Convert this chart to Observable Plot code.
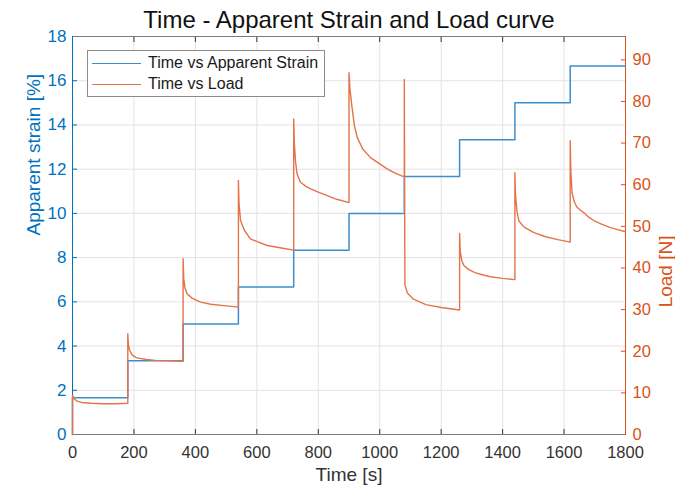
<!DOCTYPE html>
<html>
<head>
<meta charset="utf-8">
<script src="https://cdn.jsdelivr.net/npm/d3@7"></script>
<script src="https://cdn.jsdelivr.net/npm/@observablehq/plot@0.6"></script>
<style>
  html, body { margin: 0; padding: 0; background: #fff; }
  #wrap { position: relative; width: 675px; height: 489px; font-family: "Liberation Sans", Arial, sans-serif; }
  #legend { position: absolute; left: 87px; top: 50px; width: 238px; height: 47px; border: 1px solid #8c8c8c; background: #fff; box-sizing: border-box; font-size: 16px; color: #1a1a1a; }
  .row { position: absolute; left: 4px; height: 20px; display: flex; align-items: center; }
  .sw { width: 49px; height: 0; border-top: 1.5px solid; margin-right: 7px; }
</style>
</head>
<body>
<div id="wrap">
  <div id="chart"></div>
  <div id="legend">
    <div class="row" style="top:2px"><span class="sw" style="border-color:#3d8fcb"></span><span>Time vs Apparent Strain</span></div>
    <div class="row" style="top:23px"><span class="sw" style="border-color:#e4734a"></span><span>Time vs Load</span></div>
  </div>
</div>
<script>
// ---- data ----
const xTicks = [0, 200, 400, 600, 800, 1000, 1200, 1400, 1600, 1800];
const strainTicks = [0, 2, 4, 6, 8, 10, 12, 14, 16, 18];
const loadTicks = [0, 10, 20, 30, 40, 50, 60, 70, 80, 90];
const loadMax = 95.6;

const strainTime  = [0, 0, 180, 360, 540, 720, 900, 1080, 1260, 1440, 1620, 1800];
const strainValue = [0, 1.667, 3.333, 5.0, 6.667, 8.333, 10.0, 11.667, 13.333, 15.0, 16.667, 16.667];

const loadTime = [
  0, 0, 5, 15, 30, 60, 100, 140, 180,
  180, 182, 186, 195, 210, 240, 270, 320, 360,
  360, 362, 366, 373, 390, 417, 450, 500, 540,
  540, 542, 547, 560, 579, 605, 634, 680, 720,
  720, 722, 726, 731, 742, 760, 775, 800, 829, 860, 900,
  900, 903, 910, 918, 927, 945, 970, 1000, 1024, 1050, 1080,
  1080, 1082, 1090, 1110, 1150, 1200, 1260,
  1260, 1262, 1267, 1274, 1290, 1310, 1328, 1360, 1400, 1440,
  1440, 1442, 1447, 1453, 1470, 1502, 1540, 1580, 1620,
  1620, 1622, 1626, 1634, 1642, 1655, 1664, 1680, 1697, 1720, 1751, 1775, 1800
];
const loadValue = [
  0, 9.4, 8.6, 8.0, 7.7, 7.5, 7.4, 7.4, 7.5,
  24.2, 21.5, 20.2, 19.0, 18.4, 18.0, 17.8, 17.7, 17.6,
  42.2, 37.5, 35.2, 33.8, 32.7, 31.8, 31.3, 30.9, 30.6,
  61.0, 55.5, 51.4, 49.0, 47.0, 46.2, 45.4, 44.8, 44.3,
  75.8, 70.0, 65.5, 62.6, 60.6, 59.6, 59.0, 58.2, 57.4, 56.5, 55.7,
  86.9, 83.0, 78.5, 74.0, 71.3, 68.5, 66.5, 65.0, 63.8, 62.8, 61.9,
  85.3, 36.0, 34.0, 32.5, 31.2, 30.5, 29.9,
  48.3, 44.0, 41.8, 40.6, 39.6, 38.9, 38.5, 37.9, 37.5, 37.2,
  62.9, 57.5, 53.5, 51.3, 49.8, 48.5, 47.5, 46.8, 46.2,
  70.6, 63.5, 58.0, 55.8, 54.6, 53.8, 53.3, 52.2, 51.4, 50.6, 49.7, 49.2, 48.7
];

const titleText = "Time - Apparent Strain and Load curve";
const xLabel = "Time [s]";
const yLeftLabel = "Apparent strain [%]";
const yRightLabel = "Load [N]";

// ---- build ----
const BLUE = "#0072BD", ORANGE = "#D95319";
const k = 18 / loadMax;
const strainData = strainTime.map((t, i) => ({t, v: strainValue[i]}));
const loadData = loadTime.map((t, i) => ({t, v: loadValue[i] * k}));
const font = "'Liberation Sans', Arial, sans-serif";

const chart = Plot.plot({
  width: 675,
  height: 489,
  marginLeft: 72,
  marginRight: 50,
  marginTop: 36,
  marginBottom: 55,
  style: {fontFamily: font, background: "#fff"},
  x: {domain: [0, 1800]},
  y: {domain: [0, 18]},
  marks: [
    Plot.gridX(xTicks, {stroke: "#e3e3e3", strokeOpacity: 1}),
    Plot.gridY(strainTicks, {stroke: "#e3e3e3", strokeOpacity: 1}),
    Plot.axisX(xTicks, {anchor: "bottom", tickSize: -5, tickPadding: 17, fontSize: 16.5, color: "#333", label: null, tickFormat: d => String(d)}),
    Plot.axisX(xTicks, {anchor: "top", tickSize: -5, color: "#333", label: null, tickFormat: () => ""}),
    Plot.axisY(strainTicks, {anchor: "left", tickSize: -5, tickPadding: 11, fontSize: 17, color: BLUE, label: null}),
    Plot.axisY(loadTicks.map(v => v * k), {anchor: "right", tickSize: -5, tickPadding: 12, fontSize: 16.5, color: ORANGE, label: null, tickFormat: d => String(Math.round(d / k))}),
    Plot.ruleY([0], {stroke: "#7a7a7a"}),
    Plot.ruleY([18], {stroke: "#7a7a7a"}),
    Plot.ruleX([0], {stroke: BLUE}),
    Plot.ruleX([1800], {stroke: ORANGE}),
    Plot.line(strainData, {x: "t", y: "v", curve: "step-after", stroke: "#3d8fcb", strokeWidth: 1.5}),
    Plot.line(loadData, {x: "t", y: "v", stroke: "#e4734a", strokeWidth: 1.4}),
    Plot.text([titleText], {frameAnchor: "top", lineAnchor: "middle", dy: -16, fontSize: 24, fill: "#111"}),
    Plot.text([xLabel], {frameAnchor: "bottom", lineAnchor: "middle", dy: 40, fontSize: 19, fill: "#333"}),
    Plot.text([yLeftLabel], {frameAnchor: "left", lineAnchor: "middle", dx: -39, rotate: -90, fontSize: 19, fill: BLUE}),
    Plot.text([yRightLabel], {frameAnchor: "right", lineAnchor: "middle", dx: 40, rotate: -90, fontSize: 19, fill: ORANGE})
  ]
});
document.getElementById("chart").appendChild(chart);
</script>
</body>
</html>
